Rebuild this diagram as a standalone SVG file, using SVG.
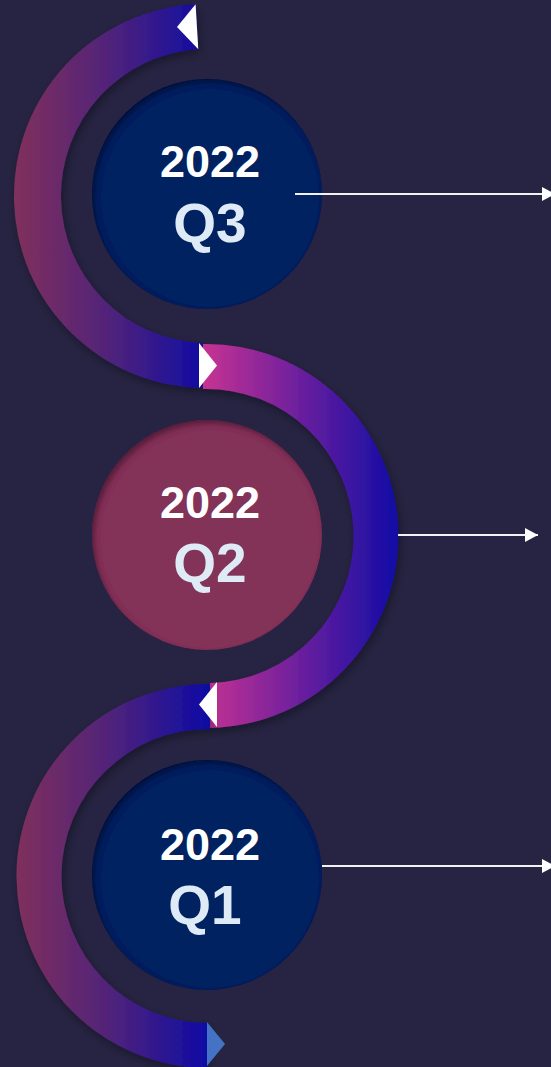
<svg xmlns="http://www.w3.org/2000/svg" width="551" height="1067" viewBox="0 0 551 1067">
  <style>
    .yr { font-family: "Liberation Sans", Arial, sans-serif; font-weight: bold; font-size: 45px; fill: #FFFFFF; text-anchor: middle; }
    .q { font-family: "Liberation Sans", Arial, sans-serif; font-weight: bold; font-size: 55px; fill: #DEEBF7; text-anchor: middle; }
    .conn { stroke: #F2F2F2; stroke-width: 2; fill: none; }
  </style>
  <defs>
    <linearGradient id="gLeft1" gradientUnits="userSpaceOnUse" x1="15" y1="0" x2="205" y2="0">
      <stop offset="0" stop-color="#80305C"/>
      <stop offset="0.5" stop-color="#50237A"/>
      <stop offset="1" stop-color="#100CA3"/>
    </linearGradient>
    <linearGradient id="gRight" gradientUnits="userSpaceOnUse" x1="203" y1="0" x2="398" y2="0">
      <stop offset="0" stop-color="#C63392"/>
      <stop offset="0.5" stop-color="#6A1F9E"/>
      <stop offset="1" stop-color="#110CA5"/>
    </linearGradient>
    <filter id="ds" x="-20%" y="-20%" width="140%" height="140%">
      <feDropShadow dx="2" dy="4" stdDeviation="5" flood-color="#000000" flood-opacity="0.35"/>
    </filter>
    <filter id="inset" x="-10%" y="-10%" width="120%" height="120%">
      <feComponentTransfer in="SourceAlpha" result="inv">
        <feFuncA type="table" tableValues="1 0"/>
      </feComponentTransfer>
      <feGaussianBlur in="inv" stdDeviation="2.5"/>
      <feOffset dx="3" dy="4" result="ob"/>
      <feFlood flood-color="#000000" flood-opacity="0.55"/>
      <feComposite in2="ob" operator="in"/>
      <feComposite in2="SourceAlpha" operator="in" result="sh"/>
      <feMerge>
        <feMergeNode in="SourceGraphic"/>
        <feMergeNode in="sh"/>
      </feMerge>
    </filter>
    <marker id="arr" viewBox="0 0 13 14" refX="13" refY="7" markerWidth="13" markerHeight="14" markerUnits="userSpaceOnUse" orient="auto">
      <path d="M0,0 L13,7 L0,14 Z" fill="#FFFFFF"/>
    </marker>
  </defs>

  <rect x="0" y="0" width="551" height="1067" fill="#262442"/>

  <g id="arcs">
    <g id="arc-q3" filter="url(#ds)">
      <path d="M 195.6 4.3 A 192 192 0 0 0 203 388 L 203 342.9 A 147 147 0 0 1 198.3 49.3 Z" fill="url(#gLeft1)"/>
    </g>
    <g id="arc-q2" filter="url(#ds)">
      <path d="M 203 344 A 192 192 0 0 1 210 728 L 210 683 A 147 147 0 0 0 203 389 Z" fill="url(#gRight)"/>
    </g>
    <g id="arc-q1" filter="url(#ds)">
      <path d="M 210 684 A 192 192 0 1 0 207 1068 L 207 1023 A 147 147 0 1 1 210 729 Z" fill="url(#gLeft1)"/>
    </g>
    <g id="arrowheads">
      <path d="M 195.6 4.3 L 198.3 49.3 L 177 27 Z" fill="#FFFFFF"/>
      <path d="M 199 343 L 217 365.5 L 199 388 Z" fill="#FFFFFF"/>
      <path d="M 217 682 L 199 704.5 L 217 727 Z" fill="#FFFFFF"/>
      <path d="M 207 1022 L 225 1044 L 207 1066 Z" fill="#4472C4"/>
    </g>
  </g>

  <g id="node-q3">
    <circle cx="207" cy="194" r="115" fill="#002060" filter="url(#inset)"/>
    <text class="yr" x="210" y="177">2022</text>
    <text class="q" x="210" y="242">Q3</text>
  </g>

  <g id="node-q2">
    <circle cx="207" cy="535" r="115" fill="#833259" filter="url(#inset)"/>
    <text class="yr" x="210" y="518">2022</text>
    <text class="q" x="210" y="582">Q2</text>
  </g>

  <g id="node-q1">
    <circle cx="207" cy="875" r="115" fill="#002060" filter="url(#inset)"/>
    <text class="yr" x="210" y="860">2022</text>
    <text class="q" x="205" y="924">Q1</text>
  </g>

  <g id="connectors">
    <line class="conn" x1="295" y1="194" x2="555" y2="194" marker-end="url(#arr)"/>
    <line class="conn" x1="398" y1="535" x2="538" y2="535" marker-end="url(#arr)"/>
    <line class="conn" x1="322" y1="866" x2="555" y2="866" marker-end="url(#arr)"/>
  </g>
</svg>
